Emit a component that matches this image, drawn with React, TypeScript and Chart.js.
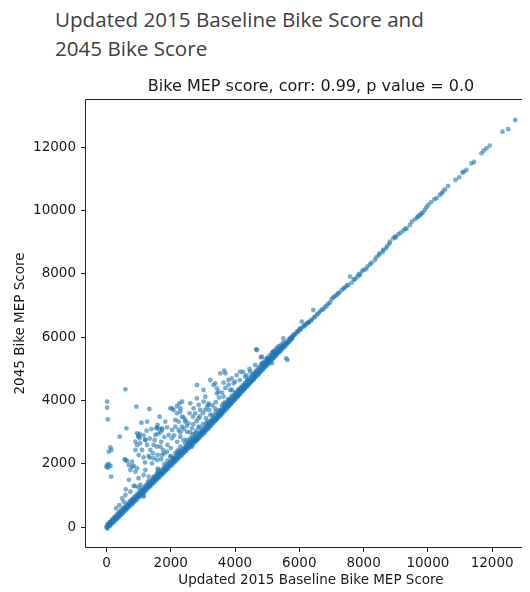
import React, { useEffect, useRef } from "react";
import { Chart, registerables } from "chart.js";

Chart.register(...registerables);

// [Updated 2015 Baseline Bike MEP Score, 2045 Bike MEP Score]
const bandCenter: number[][] = [
  [0,10],[60,55],[130,140],[200,195],[270,285],[340,330],[410,420],[480,470],[550,560],[620,610],[690,700],[760,755],[830,845],[900,890],[970,985],[1040,1035],[1110,1120],[1180,1170],[1250,1265],[1320,1310],[1390,1400],[1460,1455],[1530,1545],[1600,1590],[1670,1685],[1740,1730],[1810,1825],[1880,1870],[1950,1965],[2020,2010],[2090,2105],[2160,2150],[2230,2245],[2300,2290],[2370,2385],[2440,2430],[2510,2525],[2580,2570],[2650,2665],[2720,2710],[2790,2805],[2860,2850],[2930,2945],[3000,2990],[3070,3085],[3140,3150],[3210,3235],[3280,3300],[3350,3380],[3420,3440],
  [3490,3530],[3560,3600],[3630,3680],[3700,3750],[3770,3830],[3840,3900],[3910,3980],[3980,4050],[4050,4130],[4120,4200],[4190,4280],[4260,4350],[4330,4430],[4400,4500],[4470,4580],[4540,4650],[4610,4730],[4680,4800],[4750,4880],[4820,4960],[4890,5040],[4960,5110],[5030,5190],[5100,5260],[5170,5340],[5240,5410],[5310,5490],[5380,5560],[5450,5640],[5520,5710],[5590,5790],[5660,5860],[5730,5940],[5800,6010],[5870,6090],[5940,6160],[6010,6240]
];

const bandLower: number[][] = [
  [35,-40],[105,40],[175,110],[245,170],[315,250],[385,310],[455,390],[525,450],[595,530],[665,590],[735,670],[805,730],[875,810],[945,870],[1015,950],[1085,1010],[1155,1090],[1225,1150],[1295,1230],[1365,1290],[1435,1370],[1505,1430],[1575,1510],[1645,1570],[1715,1650],[1785,1710],[1855,1790],[1925,1850],[1995,1930],[2065,1990],[2135,2070],[2205,2130],[2275,2210],[2345,2270],[2415,2350],[2485,2410],[2555,2490],[2625,2550],[2695,2630],[2765,2690],[2835,2770],[2905,2830],[2975,2910],[3045,2980],[3115,3060],[3185,3130],[3255,3210],[3325,3290],[3395,3370],[3465,3440],[3535,3510],[3605,3590],[3675,3670],[3745,3740],[3815,3820],[3885,3900],[3955,3980],[4025,4050],[4095,4130],[4165,4210],[4235,4290],[4305,4370],[4375,4440],[4445,4520],[4515,4600],[4585,4670],[4655,4750],[4725,4820],[4795,4900],[4865,4970],[4935,5050],[5005,5120],[5075,5200],[5145,5270],[5215,5350],[5285,5420],[5355,5500],[5425,5570],[5495,5650],[5565,5720],[5635,5800],[5705,5870],[5775,5950]
];

const bandUpper: number[][] = [
  [35,90],[105,160],[175,250],[245,320],[315,400],[385,470],[455,550],[525,610],[595,690],[665,760],[735,830],[805,900],[875,970],[945,1040],[1015,1110],[1085,1180],[1155,1250],[1225,1320],[1295,1390],[1365,1460],[1435,1530],[1505,1600],[1575,1670],[1645,1740],[1715,1810],[1785,1880],[1855,1950],[1925,2020],[1995,2090],[2065,2160],[2135,2230],[2205,2300],[2275,2370],[2345,2440],[2415,2510],[2485,2580],[2555,2650],[2625,2720],[2695,2790],[2765,2860],[2835,2930],[2905,3000],[2975,3070],[3045,3150],[3115,3220],[3185,3300],[3255,3370],[3325,3450],[3395,3530],[3465,3600],[3535,3680],[3605,3760],[3675,3840],[3745,3920],[3815,4000],[3885,4080],[3955,4160],[4025,4240],[4095,4320],[4165,4400],[4235,4480],[4305,4560],[4375,4630],[4445,4710],[4515,4790],[4585,4870],[4655,4950],[4725,5030],[4795,5110],[4865,5190],[4935,5270],[5005,5340],[5075,5420],[5145,5500],[5215,5570],[5285,5650],[5355,5720]
];

const bandLowerMid: number[][] = [
  [17,-15],[87,60],[157,125],[227,200],[297,265],[367,340],[437,405],[507,480],[577,545],[647,620],[717,685],[787,760],[857,825],[927,900],[997,965],[1067,1040],[1137,1105],[1207,1180],[1277,1245],[1347,1320],[1417,1385],[1487,1460],[1557,1525],[1627,1600],[1697,1665],[1767,1740],[1837,1805],[1907,1880],[1977,1945],[2047,2020],[2117,2085],[2187,2160],[2257,2225],[2327,2300],[2397,2365],[2467,2440],[2537,2505],[2607,2580],[2677,2645],[2747,2720],[2817,2785],[2887,2860],[2957,2925],[3027,3000],[3097,3070],[3167,3140],[3237,3215],[3307,3285],[3377,3360],[3447,3440],[3517,3515],[3587,3595],[3657,3670],[3727,3750],[3797,3825],[3867,3905],[3937,3985],[4007,4060],[4077,4140],[4147,4215],[4217,4300],[4287,4375],[4357,4455],[4427,4535],[4497,4610],[4567,4690],[4637,4770],[4707,4845],[4777,4925],[4847,5005],[4917,5085],[4987,5160],[5057,5240],[5127,5320],[5197,5395],[5267,5475],[5337,5550],[5407,5630],[5477,5710],[5547,5785],[5617,5865],[5687,5940],[5757,6020]
];

const bandUpperMid: number[][] = [
  [52,90],[122,165],[192,235],[262,305],[332,375],[402,445],[472,515],[542,585],[612,655],[682,725],[752,795],[822,865],[892,935],[962,1005],[1032,1075],[1102,1145],[1172,1215],[1242,1285],[1312,1355],[1382,1425],[1452,1495],[1522,1565],[1592,1635],[1662,1705],[1732,1775],[1802,1845],[1872,1915],[1942,1985],[2012,2055],[2082,2125],[2152,2195],[2222,2265],[2292,2335],[2362,2405],[2432,2475],[2502,2545],[2572,2615],[2642,2685],[2712,2755],[2782,2825],[2852,2895],[2922,2965],[2992,3040],[3062,3110],[3132,3185],[3202,3255],[3272,3330],[3342,3405],[3412,3485],[3482,3560],[3552,3640],[3622,3720],[3692,3800],[3762,3875],[3832,3955],[3902,4035],[3972,4115],[4042,4190],[4112,4270],[4182,4350],[4252,4430],[4322,4505],[4392,4585],[4462,4665],[4532,4745],[4602,4820],[4672,4900],[4742,4980],[4812,5060],[4882,5140],[4952,5215],[5022,5295],[5092,5375],[5162,5450],[5232,5530],[5302,5610],[5372,5690],[5442,5765],[5512,5845]
];

const upperTrend: number[][] = [
  [12720,12860],[12320,12490],[12500,12570],[11925,12050],[11823,11967],[11739,11891],[11668,11809],[11438,11535],[11357,11494],[11200,11282],[11118,11229],[11077,11197],[10972,11052],[10860,10967],[10630,10777],[10528,10673],[10475,10597],[10425,10546],[10373,10493],[10270,10389],[10196,10357],[10100,10260],[10010,10177],[9959,10104],[9907,10019],[9835,9934],[9800,9900],[9752,9861],[9700,9820],[9668,9789],[9596,9725],[9500,9650],[9441,9545],[9338,9441],[9300,9420],[9233,9365],[9150,9300],[9078,9252],[9000,9150],[8975,9176],[8922,9125],[8820,9018],[8800,8950],[8736,8882],[8696,8809],[8612,8756],[8600,8700],[8500,8650],[8478,8598],[8400,8530],[8354,8440],[8250,8355],[8200,8300],[8115,8229],[8075,8146],[8000,8130],[7950,8080],[7888,7967],[7850,7990],[7804,7913],[7733,7831],[7700,7830],[7578,7913],[7630,7724],[7525,7651],[7480,7630],[7422,7578],[7380,7540],[7320,7493],[7245,7408],[7200,7380],[7165,7335],[7100,7290],[7059,7262],[7000,7200],[6957,7092],[6900,7060],[6854,6988],[6800,6960],[6749,6883],[6700,6870],[6650,6820],[6594,6757],[6550,6720],[6450,6620],[6438,6861],[6491,6650],[6388,6546],[6350,6530],[6300,6480],[6283,6461],[6250,6440],[6220,6420],[6180,6388],[6150,6350],[6120,6330],[6077,6492],[6050,6260],[6025,6283],[5980,6200],[5922,6177],[5850,6080],[5817,6072],[5760,5980],[5714,5968],[5611,5810],[5506,5968],[5457,5703],[5351,5598],[5248,5494],[5177,5545],[5093,5336],[4990,5229],[4885,5125],[4783,5020],[4680,4913],[4575,4809],[4658,5620],[4804,5368],[4835,5178],[5590,5336],[5630,5283]
];

const outliers: number[][] = [
  [21,3966],[21,3777],[41,3410],[590,4357],[932,3808],[1335,3735],[413,2861],[621,3126],[124,2526],[72,2387],[155,2441],[20,1967],[0,1913],[72,1999],[124,1935],[41,1882],[145,1598],[568,2147],[643,2093],[797,2071],[848,1935],[953,1863],[1034,2946],[984,2883],[1034,2810],[1208,2757],[1264,3334],[1655,3492],[1593,3230],[1553,3126],[1730,3072],[1469,2599],[1575,2545],[1366,2441],[1450,2337],[1593,2283],[1677,2545],[1760,2441],[1801,2337],[1885,3158],[1936,2914],[2040,3072],[1988,3757],[2090,3704],[2196,3600],[2298,3757],[2143,3388],[2245,3334],[2401,3473],[2453,3334],[2351,3176],[2267,3915],[2351,3966],[2506,3018],[2661,2861],[2587,3600],[2692,3492],[2816,4073],[2867,3862],[2919,3704],[3022,3966],[3127,3808],[3177,3915],[3230,4651],[3332,4493],[3437,4389],[3437,4231],[3540,4863],[3665,4945],[3643,4566],
  [1087,3303],[1574,3158],[1646,3094],[1730,3126],[1677,2987],[1522,2914],[1832,3334],[953,2968],[1003,2861],[1211,2757],[1264,2599],[1109,2441],[953,2599],[901,2703],[901,2441],[1003,2283],[1158,2210],[1314,2251],[1469,2179],[1575,2125],[1416,2021],[590,2125],[693,1967],[797,1913],[745,1809],[901,1756],[1211,1809],[1158,1651],[1314,1598],[1469,1598],[1575,1703],[1730,2283],[1885,2387],[1988,2229],[2090,2179],[2143,2337],[2245,2441],[2040,3757],[2196,3830],[2298,3650],[2351,3492],[2453,3388],[2143,3176],[2245,3072],[2298,2861],[2401,2757],[2040,2810],[2609,3915],[2711,3757],[2764,3600],[2867,3441],[2556,3283],[2661,3126],[2764,2968],[2816,2757],[2556,2703],[2661,2545],[2867,3176],[2816,4493],[3022,4335],[3075,4124],[3385,4547],[3488,4282],[3643,4124],[3696,4863],[3799,4651],[3075,3704],[3230,3546],[3282,3388],[3385,3757],[3540,3600],[3643,3915],[3799,4019],[3903,4335],[3177,3862],
  [488,916],[590,1020],[537,808],[745,1124],[848,1304],[797,861],[1056,1335],[1158,1020],[1158,966],
  [4680,5598],[4835,5387],[4990,5336],[5146,5178],[4627,5125],[4472,4913],[4161,4913],[4317,4755],[3955,4547],[3851,4335],
  [2500,2750],[2700,2950],[2900,3150],[3100,3300],[3300,3550],[3500,3700],[3700,3950],[3900,4150],[4100,4350],[4300,4500],[2200,2400],[2000,2250],[1800,2000],[1600,1850],[3400,3650],[3600,3850],[3800,4050],[4000,4250],[4200,4400],[4400,4650],
  [1050,2650],[1150,2900],[1250,3050],[1350,2800],[1400,3100],[1500,2750],[1600,2950],[1700,2700],[1800,2850],[1900,2600],[2000,2500],[2100,2900],[2200,2700],[2300,3000],[2400,3100],[2500,3200],[2600,3000],[2700,3250],[2800,3350],[2900,3500],[3000,3600],[3100,3450],[3200,3700],[3300,3850],[3400,3950],[3500,4100],[3600,4250],[3700,4400],[3800,4500],[3900,4700],[4000,4600],[4050,4800],[4150,4650],[4250,4900],[4350,4800],[4450,5000],[1200,2050],[1350,2200],[1700,2150],[1900,2100],[2300,2550],[2450,2650],[2600,2800],[2800,3050],[3000,3250],[3150,3350],[700,1500],[600,1200],[1000,1550],[1300,1450],[1600,1800],[400,700],[300,600],[900,1300],[1000,1250]
];

const xTickValues = [0, 2000, 4000, 6000, 8000, 10000, 12000];
const yTickValues = [0, 2000, 4000, 6000, 8000, 10000, 12000];

const pageTitle = ["Updated 2015 Baseline Bike Score and", "2045 Bike Score"];
const chartTitle = "Bike MEP score, corr: 0.99, p value = 0.0";
const xAxisTitle = "Updated 2015 Baseline Bike MEP Score";
const yAxisTitle = "2045 Bike MEP Score";

const MPL = "'DejaVu Sans', sans-serif";
const AXIS_FONT = 13.5;

const framePlugin = {
  id: "frame",
  afterDraw(chart: any) {
    const { ctx, chartArea } = chart;
    const { left, top, right, bottom } = chartArea;
    ctx.save();
    ctx.strokeStyle = "#262626";
    ctx.lineWidth = 1;
    ctx.beginPath();
    ctx.moveTo(left - 0.5, bottom + 0.5);
    ctx.lineTo(left - 0.5, top - 0.5);
    ctx.lineTo(right + 0.5, top - 0.5);
    ctx.lineTo(right + 0.5, bottom + 0.5);
    ctx.lineTo(left - 0.5, bottom + 0.5);
    ctx.stroke();
    ctx.fillStyle = "#1a1a1a";
    ctx.font = `16px ${MPL}`;
    ctx.textAlign = "center";
    ctx.textBaseline = "alphabetic";
    ctx.fillText(chartTitle, (left + right) / 2, top - 9.5);
    ctx.restore();
  },
};

export default function App() {
  const ref = useRef<HTMLCanvasElement>(null);
  useEffect(() => {
    if (!ref.current) return;
    const all = [...bandLower, ...bandLowerMid, ...bandCenter, ...bandUpperMid, ...bandUpper, ...upperTrend, ...outliers];
    const chart = new Chart(ref.current, {
      type: "scatter",
      data: {
        datasets: [
          {
            data: all.map(([x, y]) => ({ x, y })),
            backgroundColor: "rgba(31,119,180,0.6)",
            borderWidth: 0,
            pointRadius: 2.4,
          },
        ],
      },
      options: {
        responsive: false,
        animation: false,
        devicePixelRatio: 1,
        layout: { padding: { top: 92, right: 12, left: 0, bottom: 0 } },
        plugins: { legend: { display: false }, tooltip: { enabled: false }, title: { display: false } },
        scales: {
          x: {
            type: "linear",
            min: -636,
            max: 13364,
            afterBuildTicks: (s: any) => { s.ticks = xTickValues.map((v) => ({ value: v })); },
            afterFit: (s: any) => { s.height = 45; },
            grid: { display: true, drawOnChartArea: false, drawTicks: true, tickLength: 5, color: "#262626", tickWidth: 1 },
            border: { display: false },
            ticks: { color: "#1a1a1a", font: { family: MPL, size: AXIS_FONT }, padding: 3, maxRotation: 0, autoSkip: false, callback: (v: any) => String(v) },
            title: { display: true, text: xAxisTitle, color: "#1a1a1a", font: { family: MPL, size: AXIS_FONT }, padding: { top: 0, bottom: 3 } },
          },
          y: {
            type: "linear",
            min: -622,
            max: 13492,
            afterBuildTicks: (s: any) => { s.ticks = yTickValues.map((v) => ({ value: v })); },
            afterFit: (s: any) => { s.width = 78; },
            grid: { display: true, drawOnChartArea: false, drawTicks: true, tickLength: 5, color: "#262626", tickWidth: 1 },
            border: { display: false },
            ticks: { color: "#1a1a1a", font: { family: MPL, size: AXIS_FONT }, padding: 5, autoSkip: false, callback: (v: any) => String(v) },
            title: { display: true, text: yAxisTitle, color: "#1a1a1a", font: { family: MPL, size: AXIS_FONT }, padding: { top: 4, bottom: 0 } },
          },
        },
      },
      plugins: [framePlugin],
    } as any);
    return () => chart.destroy();
  }, []);

  return (
    <div style={{ position: "relative", width: 522, height: 584 }}>
      <div
        style={{
          position: "absolute",
          left: 47,
          top: -3,
          fontFamily: "'Open Sans', sans-serif",
          fontSize: 20.6,
          lineHeight: "29px",
          color: "#404040",
          whiteSpace: "nowrap",
        }}
      >
        {pageTitle[0]}
        <br />
        {pageTitle[1]}
      </div>
      <div style={{ position: "absolute", left: 0, top: 0, width: 522, height: 584, overflow: "hidden" }}>
        <canvas ref={ref} width={540} height={584} style={{ display: "block", width: 540, height: 584 }} />
      </div>
    </div>
  );
}
